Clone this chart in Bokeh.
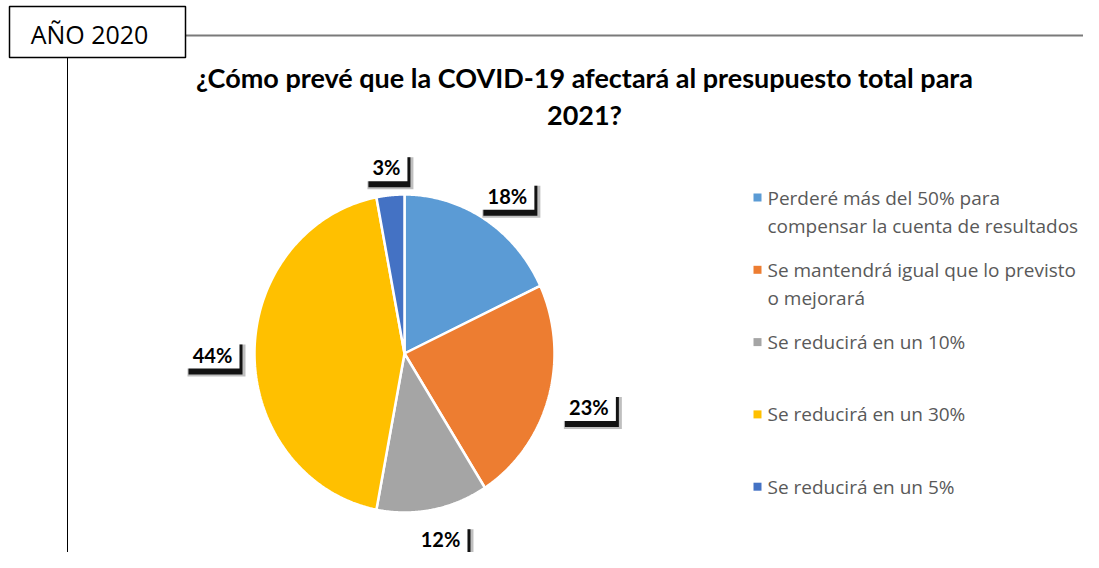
import numpy as np
from bokeh.plotting import figure
from bokeh.models import Range1d
from bokeh.core.properties import value
from bokeh.embed import file_html
from bokeh.resources import INLINE

# ---- data ----
categories = [
    "Perderé más del 50% para\ncompensar la cuenta de resultados",
    "Se mantendrá igual que lo previsto\no mejorará",
    "Se reducirá en un 10%",
    "Se reducirá en un 30%",
    "Se reducirá en un 5%",
]
values = [18, 23, 12, 44, 3]
pct_labels = ["18%", "23%", "12%", "44%", "3%"]
colors = ["#5B9BD5", "#ED7D31", "#A5A5A5", "#FFC000", "#4472C4"]
title_lines = ["¿Cómo prevé que la COVID-19 afectará al presupuesto total para", "2021?"]
box_label = "AÑO 2020"

TFONT = "Lato"
LFONT = "Open Sans"

# page coordinates: x -> screen x, y -> screen y (reversed range)
p = figure(width=1083, height=552, output_backend="svg", toolbar_location=None,
           x_range=Range1d(0, 1083), y_range=Range1d(552, 0),
           min_border=0, outline_line_color=None)
p.axis.visible = False
p.grid.visible = False

# ---- frame ----
p.segment(x0=[185], y0=[35], x1=[1099], y1=[35], line_color="#7A7A7A", line_width=2)
p.segment(x0=[67], y0=[57], x1=[67], y1=[570], line_color="#000000", line_width=1)
p.quad(left=[9], right=[185], top=[6], bottom=[57], fill_color="white",
       line_color="black", line_width=1.5)
p.text(x=[89], y=[33], text=[box_label], text_font=value(LFONT), text_font_size="25px",
       text_align="center", text_baseline="middle", text_color="black")

# ---- title ----
p.text(x=[584, 584], y=[77, 114], text=title_lines, text_font=value(TFONT),
       text_font_size="27px", text_font_style="bold", text_align="center",
       text_baseline="middle", text_color="black")

# ---- pie (slightly elliptical, clockwise from 12 o'clock) ----
cx, cy, rx, ry = 404, 353, 150, 159
fr = np.array(values, dtype=float) / sum(values)
ends = np.cumsum(fr) * 2 * np.pi
starts = ends - fr * 2 * np.pi
xs, ys = [], []
for a0, a1 in zip(starts, ends):
    t = np.linspace(a0, a1, 120)
    xs.append([cx] + list(cx + rx * np.sin(t)))
    ys.append([cy] + list(cy - ry * np.cos(t)))
p.patches(xs=xs, ys=ys, fill_color=colors, line_color="white", line_width=2.5)

# ---- data labels with shadow ----
mids = (starts + ends) / 2
lx = cx + 192 * np.sin(mids)
ly = cy - 188 * np.cos(mids)
bw = [54 if len(s) > 2 else 42 for s in pct_labels]
bw2 = [w + 4 for w in bw]
p.rect(x=lx + 4, y=ly + 7, width=bw2, height=32, width_units="screen", height_units="screen",
       fill_color="black", fill_alpha=0.25, line_color=None)
p.rect(x=lx + 3, y=ly + 6, width=bw, height=30, width_units="screen", height_units="screen",
       fill_color="black", fill_alpha=0.9, line_color=None)
p.rect(x=lx, y=ly, width=bw, height=30, width_units="screen", height_units="screen",
       fill_color="white", line_color=None)
p.text(x=lx, y=ly + 1, text=pct_labels, text_font=value(TFONT), text_font_size="20px",
       text_font_style="bold", text_align="center", text_baseline="middle", text_color="black")

# ---- legend ----
leg_x, leg_y0, leg_step, line_h = 757, 197, 72.3, 28
sq_y = [leg_y0 + i * leg_step for i in range(len(categories))]
p.rect(x=[leg_x] * len(categories), y=sq_y, width=8, height=8, width_units="screen",
       height_units="screen", fill_color=colors, line_color=None)
tx, ty, tt = [], [], []
for i, c in enumerate(categories):
    for j, line in enumerate(c.split("\n")):
        tx.append(leg_x + 10)
        ty.append(sq_y[i] + j * line_h)
        tt.append(line)
p.text(x=tx, y=ty, text=tt, text_font=value(LFONT), text_font_size="19px",
       text_align="left", text_baseline="middle", text_color="#595959")

open("out.html", "w").write(file_html(p, INLINE))
